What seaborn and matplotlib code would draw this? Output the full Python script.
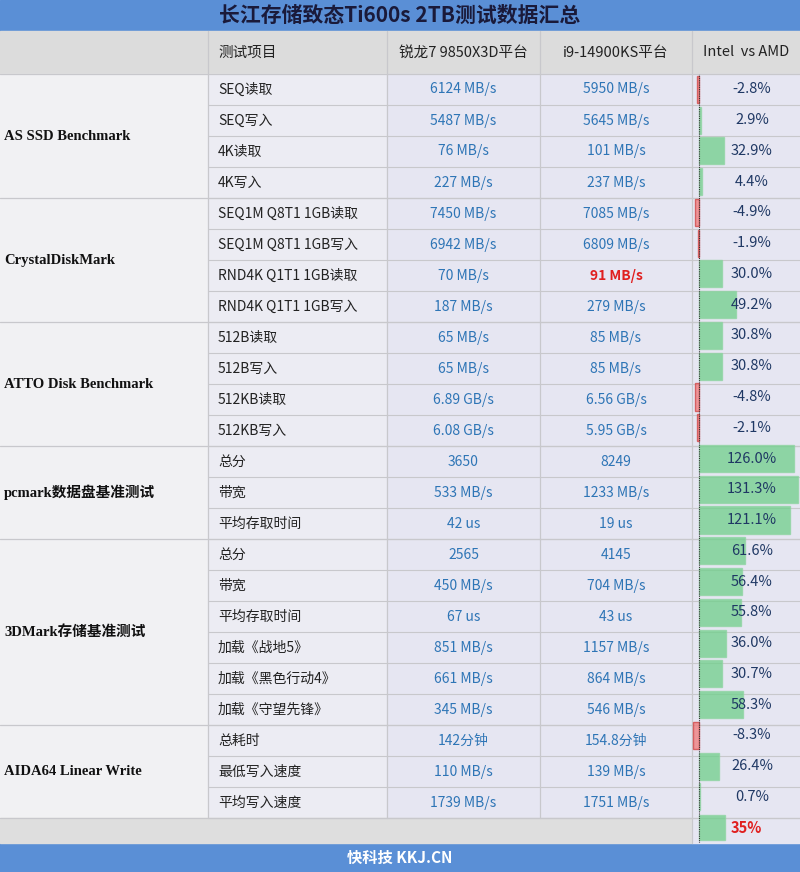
import numpy as np
import matplotlib
matplotlib.use("Agg")
import matplotlib.pyplot as plt
import matplotlib.transforms as mtransforms
import seaborn as sns

sns.set_theme(style="white")
plt.rcParams['font.family'] = ['Noto Sans CJK SC', 'DejaVu Sans']

title = "长江存储致态Ti600s 2TB测试数据汇总"
footer = "快科技 KKJ.CN"
headers = ["测试项目", "锐龙7 9850X3D平台", "i9-14900KS平台", "Intel  vs AMD"]

groups = ["AS SSD Benchmark", "CrystalDiskMark", "ATTO Disk Benchmark",
          "pcmark数据盘基准测试", "3DMark存储基准测试", "AIDA64 Linear Write"]
group_sizes = [4, 4, 4, 3, 6, 3]

items = ["SEQ读取", "SEQ写入", "4K读取", "4K写入",
         "SEQ1M Q8T1 1GB读取", "SEQ1M Q8T1 1GB写入", "RND4K Q1T1 1GB读取", "RND4K Q1T1 1GB写入",
         "512B读取", "512B写入", "512KB读取", "512KB写入",
         "总分", "带宽", "平均存取时间",
         "总分", "带宽", "平均存取时间", "加载《战地5》", "加载《黑色行动4》", "加载《守望先锋》",
         "总耗时", "最低写入速度", "平均写入速度"]
amd = ["6124 MB/s", "5487 MB/s", "76 MB/s", "227 MB/s",
       "7450 MB/s", "6942 MB/s", "70 MB/s", "187 MB/s",
       "65 MB/s", "65 MB/s", "6.89 GB/s", "6.08 GB/s",
       "3650", "533 MB/s", "42 us",
       "2565", "450 MB/s", "67 us", "851 MB/s", "661 MB/s", "345 MB/s",
       "142分钟", "110 MB/s", "1739 MB/s"]
intel = ["5950 MB/s", "5645 MB/s", "101 MB/s", "237 MB/s",
         "7085 MB/s", "6809 MB/s", "91 MB/s", "279 MB/s",
         "85 MB/s", "85 MB/s", "6.56 GB/s", "5.95 GB/s",
         "8249", "1233 MB/s", "19 us",
         "4145", "704 MB/s", "43 us", "1157 MB/s", "864 MB/s", "546 MB/s",
         "154.8分钟", "139 MB/s", "1751 MB/s"]
diff = [-2.8, 2.9, 32.9, 4.4,
        -4.9, -1.9, 30.0, 49.2,
        30.8, 30.8, -4.8, -2.1,
        126.0, 131.3, 121.1,
        61.6, 56.4, 55.8, 36.0, 30.7, 58.3,
        -8.3, 26.4, 0.7]
avg_diff = 35

W, H = 800, 872
fig = plt.figure(figsize=(8, 8.72), dpi=100)
ax = fig.add_axes([0, 0, 1, 1])
ax.set_xlim(0, W)
ax.set_ylim(H, 0)
ax.axis("off")

cols = [0, 208, 387, 540, 692, 800]
title_h, head_top, head_bot = 31, 31, 74
row_h = 31
n = len(items)
last_top = head_bot + n * row_h
last_bot = 843

blue = "#5a8fd6"
grid = "#c8c8cc"
ax.add_patch(plt.Rectangle((0, 0), W, title_h, color=blue))
ax.text(W / 2, title_h / 2, title, ha="center", va="center", fontsize=15, fontweight="bold", color="#1a1a3a")
ax.add_patch(plt.Rectangle((0, last_bot), W, H - last_bot, color=blue))
ax.text(W / 2, (last_bot + H) / 2, footer, ha="center", va="center", fontsize=11, fontweight="bold", color="white")

# header
ax.add_patch(plt.Rectangle((0, head_top), W, head_bot - head_top, color="#dcdcdc"))
for i, h in enumerate(headers):
    x = cols[i + 1] + 10 if i == 0 else (cols[i + 1] + cols[i + 2]) / 2
    ax.text(x, (head_top + head_bot) / 2, h, ha="left" if i == 0 else "center", va="center",
            fontsize=10.5, color="#222222")

# body backgrounds
ax.add_patch(plt.Rectangle((0, head_bot), cols[1], last_top - head_bot, color="#f1f1f3"))
ax.add_patch(plt.Rectangle((cols[1], head_bot), cols[2] - cols[1], last_top - head_bot, color="#ececf3"))
ax.add_patch(plt.Rectangle((cols[2], head_bot), W - cols[2], last_top - head_bot, color="#e6e6f2"))
ax.add_patch(plt.Rectangle((0, last_top), cols[4], last_bot - last_top, color="#dedede"))
ax.add_patch(plt.Rectangle((cols[4], last_top), W - cols[4], last_bot - last_top, color="#e6e6f2"))

for i in range(n):
    yc = head_bot + (i + 0.5) * row_h
    ax.text(cols[1] + 10, yc, items[i], ha="left", va="center", fontsize=10, color="#222222")
    ax.text((cols[2] + cols[3]) / 2, yc, amd[i], ha="center", va="center", fontsize=10, color="#2e75b6")
    c = "#e02020" if intel[i] == "91 MB/s" else "#2e75b6"
    ax.text((cols[3] + cols[4]) / 2, yc, intel[i], ha="center", va="center", fontsize=10, color=c,
            fontweight="bold" if c == "#e02020" else "normal")
    ax.plot([cols[1], W], [head_bot + (i + 1) * row_h] * 2, color=grid, lw=0.8)

# groups
start = 0
for g, s in zip(groups, group_sizes):
    top = head_bot + start * row_h
    ax.text(4, top + s * row_h / 2, g, ha="left", va="center", fontsize=10.5, fontweight="bold",
            family=["Liberation Serif", "Noto Sans CJK SC"], color="#111111")
    ax.plot([0, W], [top, top], color=grid, lw=0.9)
    start += s
ax.plot([0, W], [last_top, last_top], color=grid, lw=0.9)
for x in cols[1:5]:
    ax.plot([x, x], [head_top, last_top if x != cols[4] else last_bot], color=grid, lw=0.9)

# bar column
bax = fig.add_axes([692 / W, 1 - last_bot / H, 108 / W, (last_bot - head_bot) / H])
bax.patch.set_alpha(0)
vals = diff + [avg_diff]
pos = np.arange(len(vals))
bax.set_xlim(-9.3, 134)
bax.set_ylim(len(vals) - 0.5, -0.5)
heights = [0.88] * n + [0.8]
colors = ["#6fcf8a" if v >= 0 else "#f07a7a" for v in vals]
edges = ["#8fd4a2" if v >= 0 else "#d04040" for v in vals]
bax.barh(pos, vals, height=heights, color=colors, edgecolor=edges, alpha=0.75, lw=1, zorder=0)
bax.axvline(0, color="#333333", lw=0.8, ls=(0, (1, 1)))
bax.axis("off")

tr = mtransforms.blended_transform_factory(bax.transAxes, bax.transData)
for i, v in enumerate(diff):
    bax.text(0.555, i, f"{v:.1f}%", transform=tr, ha="center", va="center", fontsize=10.5,
             color="#1f3864", zorder=3)
bax.text(0.5, n, f"{avg_diff}%", transform=tr, ha="center", va="center", fontsize=10.5,
         fontweight="bold", color="#e02020", zorder=3)

fig.savefig("out.png", dpi=100)
